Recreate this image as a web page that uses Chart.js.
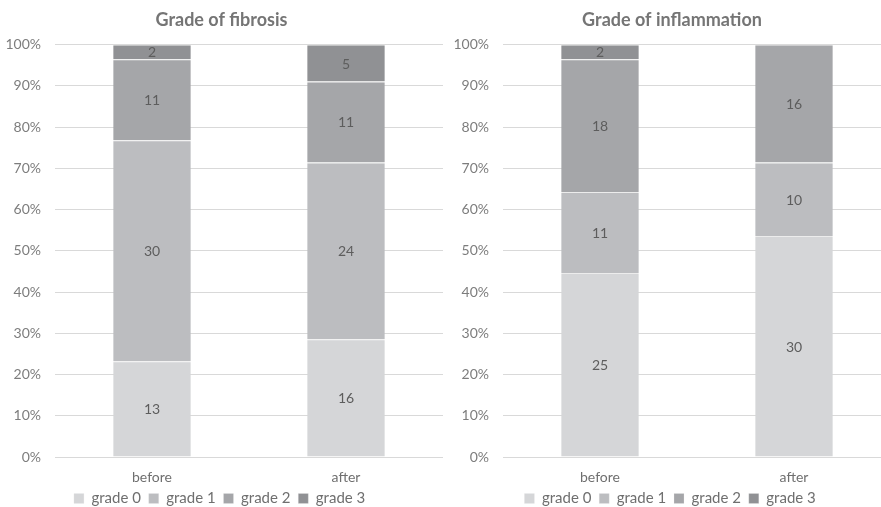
<!DOCTYPE html>
<html>
<head>
<meta charset="utf-8">
<script src="https://cdn.jsdelivr.net/npm/chart.js@4/dist/chart.umd.min.js"></script>
<style>
  body { margin: 0; background: #fff; }
  #wrap { position: relative; width: 881px; height: 507px; overflow: hidden; }
  #wrap canvas { position: absolute; top: 0; }
</style>
</head>
<body>
<div id="wrap">
  <canvas id="fibrosisChart" width="456" height="516" style="left:0"></canvas>
  <canvas id="inflammationChart" width="446" height="516" style="left:453px"></canvas>
</div>
<script>
// 데이터
const categories = ['before', 'after'];
const gradeNames = ['grade 0', 'grade 1', 'grade 2', 'grade 3'];
const gradeColors = ['#d5d6d8', '#bcbdc0', '#a5a6a9', '#909194'];
const yTicks = [0, 10, 20, 30, 40, 50, 60, 70, 80, 90, 100];

// 환자 수 (등급별, before/after)
const fibrosisGrade0 = [13, 16];
const fibrosisGrade1 = [30, 24];
const fibrosisGrade2 = [11, 11];
const fibrosisGrade3 = [2, 5];

const inflammationGrade0 = [25, 30];
const inflammationGrade1 = [11, 10];
const inflammationGrade2 = [18, 16];
const inflammationGrade3 = [2, 0];

const FONT = 'Lato, "Open Sans", sans-serif';

// 막대 안의 숫자 표시
const valueLabels = {
    id: 'valueLabels',
    afterDatasetsDraw(chart) {
        const ctx = chart.ctx;
        ctx.save();
        ctx.font = '14px ' + FONT;
        ctx.fillStyle = '#5d5d5d';
        ctx.textAlign = 'center';
        ctx.textBaseline = 'middle';
        chart.data.datasets.forEach((ds, i) => {
            chart.getDatasetMeta(i).data.forEach((bar, j) => {
                const n = ds.counts[j];
                if (!n) return;
                const p = bar.getProps(['x', 'y', 'base'], true);
                ctx.fillText(String(n), p.x, (p.y + p.base) / 2 + 1);
            });
        });
        ctx.restore();
    }
};

function makeChart(id, title, series, axisWidth, rightPad) {
    const totals = categories.map((c, j) => series.reduce((s, arr) => s + arr[j], 0));
    const ctx = document.getElementById(id).getContext('2d');
    return new Chart(ctx, {
        type: 'bar',
        data: {
            labels: categories,
            datasets: series.map((arr, i) => ({
                label: gradeNames[i],
                counts: arr,
                data: arr.map((v, j) => v / totals[j] * 100),
                backgroundColor: gradeColors[i],
                borderColor: '#ececec',
                borderWidth: { top: 1, left: 0, right: 0, bottom: 0 },
                borderSkipped: false,
                categoryPercentage: 1,
                barPercentage: 0.4
            }))
        },
        options: {
            responsive: false,
            animation: false,
            layout: { padding: { left: 0, right: rightPad, top: 0, bottom: 0 } },
            scales: {
                x: {
                    stacked: true,
                    afterFit: (scale) => { scale.height = 30; },
                    grid: { display: false, drawTicks: false },
                    border: { display: false },
                    ticks: { color: '#6f6f6f', font: { family: FONT, size: 14 }, padding: 12 }
                },
                y: {
                    stacked: true,
                    min: 0,
                    max: 100,
                    afterFit: (scale) => { scale.width = axisWidth; },
                    afterBuildTicks: (scale) => { scale.ticks = yTicks.map(v => ({ value: v })); },
                    grid: { color: '#d9d9d9', drawTicks: false },
                    border: { display: false },
                    ticks: {
                        color: '#7d7d7d',
                        font: { family: FONT, size: 14 },
                        padding: 14,
                        callback: (v) => v + '%'
                    }
                }
            },
            plugins: {
                title: {
                    display: true,
                    text: title,
                    color: '#757575',
                    font: { family: FONT, size: 18, weight: 'bold' },
                    padding: { top: 9, bottom: 14 }
                },
                legend: {
                    position: 'bottom',
                    labels: {
                        color: '#6f6f6f',
                        font: { family: FONT, size: 15 },
                        boxWidth: 10,
                        boxHeight: 10,
                        padding: 4,
                        // 항목 사이 간격을 넓히려고 뒤에 공백 추가
                        generateLabels: (chart) => Chart.defaults.plugins.legend.labels.generateLabels(chart)
                            .map(item => Object.assign(item, { text: item.text + ' ' }))
                    }
                },
                tooltip: { enabled: false }
            }
        },
        plugins: [valueLabels]
    });
}

makeChart('fibrosisChart', 'Grade of fibrosis',
    [fibrosisGrade0, fibrosisGrade1, fibrosisGrade2, fibrosisGrade3], 55, 13);
makeChart('inflammationChart', 'Grade of inflammation',
    [inflammationGrade0, inflammationGrade1, inflammationGrade2, inflammationGrade3], 50, 8);
</script>
</body>
</html>
